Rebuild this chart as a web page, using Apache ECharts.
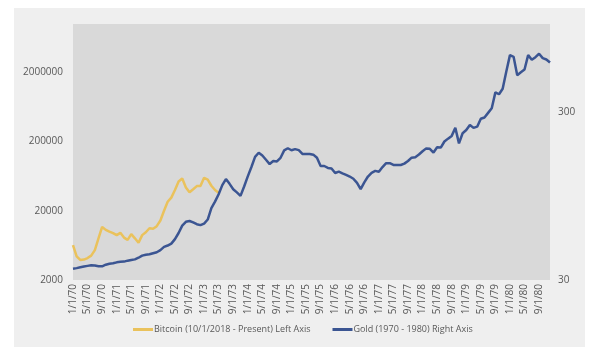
<!DOCTYPE html>
<html>
<head>
<meta charset="utf-8">
<script src="https://cdn.jsdelivr.net/npm/echarts@6/dist/echarts.min.js"></script>
<style>
  html, body { margin: 0; padding: 0; background: #ffffff; }
  #wrap { position: absolute; left: 14px; top: 8px; width: 571px; height: 339px; background: #efefef; }
  #chart { width: 571px; height: 339px; }
</style>
</head>
<body>
<div id="wrap"><div id="chart"></div></div>
<script>
// ---- data ----
const years = [70, 71, 72, 73, 74, 75, 76, 77, 78, 79, 80];
const monthNums = [1, 2, 3, 4, 5, 6, 7, 8, 9, 10, 11, 12];

// Bitcoin (10/1/2018 - Present), USD, aligned to month index from 1/1/70
const bitcoin = [
  6400, 4400, 3900, 3950, 4150, 4500, 5400, 8000, 11700, 10600, 10000, 9500,
  8900, 9600, 8200, 7600, 9200, 8000, 6900, 8900, 9800, 11200, 11000, 12000,
  14500, 20000, 27000, 31000, 40000, 53000, 58500, 43500, 37000, 41000, 45500, 45500,
  60000, 56500, 46000, 40000, 36500
];

// Gold (1970 - 1980), USD/oz, monthly
const gold = [
  35.0, 35.3, 35.7, 36.1, 36.4, 36.7, 36.6, 36.2, 36.2, 37.0, 37.5, 37.7,
  38.2, 38.5, 38.6, 39.1, 39.5, 39.8, 40.7, 41.9, 42.4, 42.7, 43.3, 43.9,
  45.2, 47.2, 48.1, 49.4, 52.5, 57.1, 63.2, 66.6, 67.3, 66.0, 64.4, 63.6,
  65.0, 68.7, 80.3, 87.8, 97.2, 110, 119.5, 112, 104, 99.6, 95, 108,
  124, 141, 162, 171.5, 165, 155.7, 146.8, 153, 152.3, 160, 177, 182.4,
  177.4, 180.2, 177.8, 168.7, 168.7, 168.7, 167, 160, 143, 143, 139.3, 138.3,
  130, 132.3, 129.3, 126.7, 123.8, 120.1, 113.5, 104.1, 114.3, 123.8, 130.3, 133.7,
  132, 140.9, 148.6, 148.6, 145.2, 145, 145, 147.7, 153.1, 160.3, 161.4, 167.3,
  175, 182, 181, 172, 185, 184, 200, 208, 216, 241, 195, 224,
  234, 251, 241, 245, 273, 278, 296, 315, 392, 382, 412, 522,
  653, 638, 496, 516, 536, 653, 613, 635, 665, 627, 615, 590
];

const leftTicks = [2000, 20000, 200000, 2000000];
const leftMax = 10000000;
const rightTicks = [30, 300];
const rightMax = 1000;

const bitcoinName = 'Bitcoin (10/1/2018 - Present) Left Axis';
const goldName = 'Gold (1970 - 1980) Right Axis';

// ---- build ----
const categories = [];
years.forEach(y => monthNums.forEach(m => categories.push(m + '/1/' + y)));

const leftBase = leftTicks[0];
const rightBase = rightTicks[0];
const btcData = bitcoin.map(v => Math.log10(v / leftBase));
const goldData = gold.map(v => Math.log10(v / rightBase));

const txt = '#595959';
const font = 'Open Sans';

const chart = echarts.init(document.getElementById('chart'), null, { renderer: 'canvas' });
chart.setOption({
  animation: false,
  backgroundColor: '#efefef',
  textStyle: { fontFamily: font },
  grid: {
    left: 59, right: 35, top: 16, bottom: 67,
    show: true, backgroundColor: '#d9d9d9', borderWidth: 0,
    containLabel: false
  },
  legend: {
    left: 114,
    top: 312,
    itemGap: 22,
    itemWidth: 20,
    itemHeight: 3,
    textStyle: { color: txt, fontSize: 9, fontFamily: font, padding: [0, 0, 0, -4] },
    data: [
      { name: bitcoinName, icon: 'rect' },
      { name: goldName, icon: 'rect' }
    ]
  },
  xAxis: {
    type: 'category',
    data: categories,
    boundaryGap: false,
    axisLine: { show: false },
    axisTick: { show: false },
    splitLine: { show: false },
    axisLabel: {
      interval: 3,
      rotate: 90,
      color: txt,
      fontSize: 10,
      fontFamily: font,
      margin: 4
    }
  },
  yAxis: [
    {
      type: 'value',
      min: 0,
      max: Math.log10(leftMax / leftBase),
      interval: 1,
      axisLine: { show: false },
      axisTick: { show: false },
      splitLine: { show: false },
      axisLabel: {
        color: txt, fontSize: 10, fontFamily: font, margin: 10,
        formatter: v => {
          const k = Math.round(v);
          return Math.abs(v - k) < 1e-6 && leftTicks[k] !== undefined ? String(leftTicks[k]) : '';
        }
      }
    },
    {
      type: 'value',
      min: 0,
      max: Math.log10(rightMax / rightBase),
      interval: 1,
      axisLine: { show: false },
      axisTick: { show: false },
      splitLine: { show: false },
      axisLabel: {
        color: txt, fontSize: 10, fontFamily: font, margin: 8,
        formatter: v => {
          const k = Math.round(v);
          return Math.abs(v - k) < 1e-6 && rightTicks[k] !== undefined ? String(rightTicks[k]) : '';
        }
      }
    }
  ],
  series: [
    {
      name: bitcoinName,
      type: 'line',
      yAxisIndex: 0,
      data: btcData,
      symbol: 'none',
      lineStyle: { color: '#eac25c', width: 2.5 },
      itemStyle: { color: '#eac25c' },
      z: 2
    },
    {
      name: goldName,
      type: 'line',
      yAxisIndex: 1,
      data: goldData,
      symbol: 'none',
      lineStyle: { color: '#3b5592', width: 2.5 },
      itemStyle: { color: '#3b5592' },
      z: 3
    }
  ]
});
</script>
</body>
</html>
